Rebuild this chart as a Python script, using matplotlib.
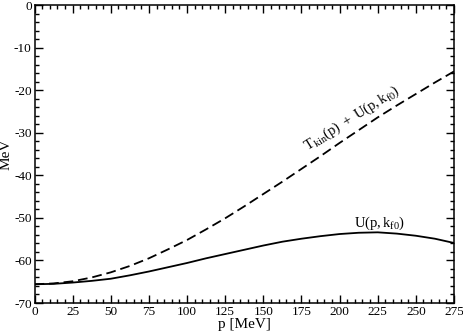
import matplotlib
matplotlib.use("Agg")
import matplotlib.pyplot as plt
from matplotlib.ticker import MultipleLocator

p_vals = [0, 12.5, 25, 37.5, 50, 62.5, 75, 87.5, 100, 112.5, 125, 137.5, 150,
          162.5, 175, 187.5, 200, 212.5, 225, 237.5, 250, 262.5, 275]
u_vals = [-65.6, -65.5, -65.2, -64.8, -64.3, -63.5, -62.6, -61.6, -60.6, -59.5,
          -58.5, -57.5, -56.5, -55.6, -54.9, -54.3, -53.8, -53.5, -53.4, -53.7,
          -54.2, -54.9, -55.9]
tu_vals = [-65.6, -65.4, -64.9, -64.0, -62.8, -61.3, -59.5, -57.4, -55.2, -52.7,
           -50.1, -47.3, -44.4, -41.5, -38.5, -35.5, -32.4, -29.4, -26.4, -23.6,
           -20.9, -18.2, -15.6]

plt.rcParams['font.family'] = ['Liberation Serif', 'DejaVu Serif']
plt.rcParams['mathtext.fontset'] = 'custom'
plt.rcParams['mathtext.rm'] = 'Liberation Serif'
plt.rcParams['mathtext.it'] = 'Liberation Serif:italic'
plt.rcParams['axes.unicode_minus'] = False
plt.rcParams['lines.scale_dashes'] = False

fig = plt.figure(figsize=(4.63, 3.34), dpi=100)
ax = fig.add_axes([34.5/463, 31/334, (454-34.5)/463, (303-5)/334])

ax.plot(p_vals, u_vals, color='black', lw=1.3)
ax.plot(p_vals, tu_vals, color='black', lw=1.3, dashes=(7, 3.5))

ax.set_xlim(0, 275)
ax.set_ylim(-70, 0)
ax.xaxis.set_major_locator(MultipleLocator(25))
ax.xaxis.set_minor_locator(MultipleLocator(5))
ax.yaxis.set_major_locator(MultipleLocator(10))
ax.yaxis.set_minor_locator(MultipleLocator(2))
ax.tick_params(which='both', direction='in', top=True, right=True, labelsize=9.5, width=1.0)
ax.tick_params(which='major', length=6, pad=2)
ax.tick_params(which='minor', length=3)
for s in ax.spines.values():
    s.set_linewidth(1.1)

ax.set_xlabel('p [MeV]', fontsize=11, labelpad=0)
ax.set_ylabel('MeV', fontsize=11, labelpad=1)

ax.text(208, -26.6, r'$\mathrm{T_{kin}(p)\ +\ U(p,k_{f0})}$', fontsize=10.5,
        rotation=32, rotation_mode='anchor', ha='center', va='center')
ax.text(226.5, -51.2, r'$\mathrm{U(p,k_{f0})}$', fontsize=10.5, ha='center', va='center')

fig.savefig('out.png', dpi=100)
